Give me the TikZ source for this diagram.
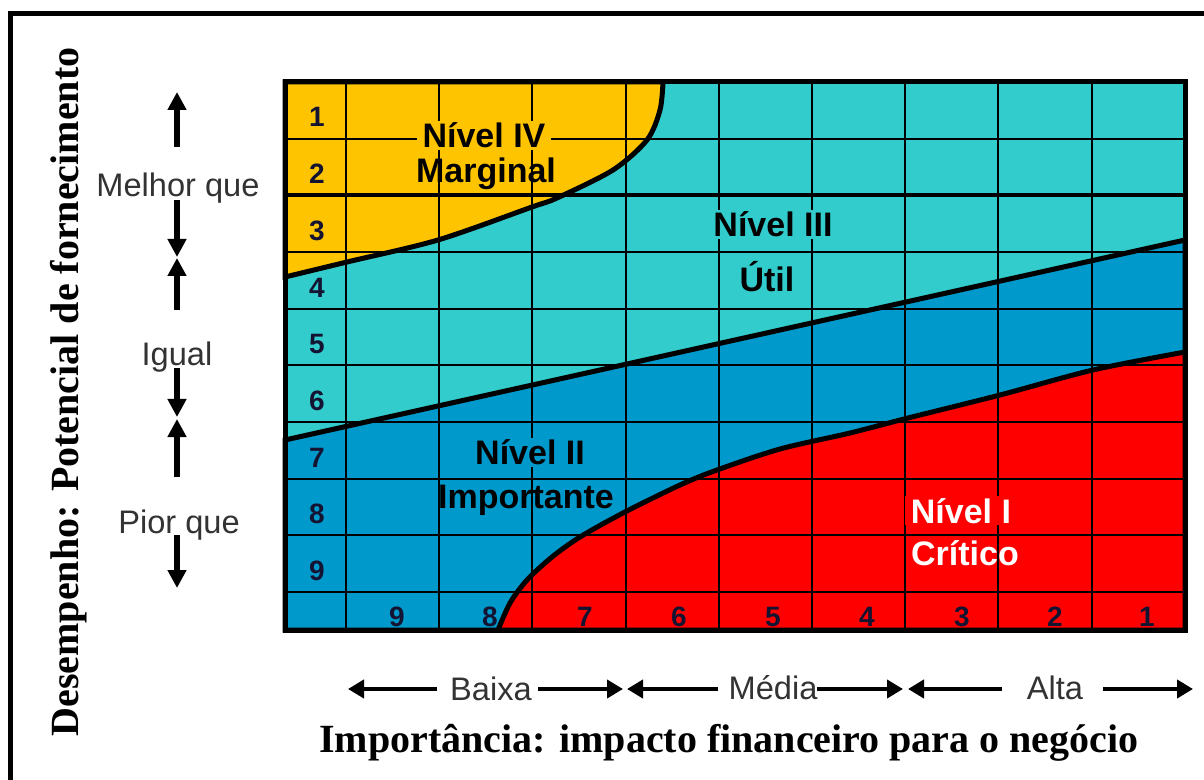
\documentclass[tikz,border=0pt]{standalone}
\usepackage{fontspec}
\setmainfont{Liberation Serif}
\setsansfont{Liberation Sans}
\usetikzlibrary{arrows.meta}
\definecolor{marginal}{RGB}{255,196,0}
\definecolor{util}{RGB}{51,204,204}
\definecolor{importante}{RGB}{0,153,204}
\definecolor{critico}{RGB}{255,0,0}
\definecolor{numcol}{RGB}{20,20,50}

\begin{document}
\begin{tikzpicture}[x=0.5pt, y=-0.5pt,
	bigarrow/.style={line width=2.6pt, -{Triangle[length=9pt,width=9pt]}},
	flatarrow/.style={line width=2.2pt, -{Triangle[length=8pt,width=9pt]}},
	lvl/.style={font=\sffamily\bfseries\fontsize{17}{19}\selectfont, anchor=base, inner sep=0pt},
	lvlbox/.style={lvl, inner xsep=3pt, inner ysep=1pt},
	num/.style={font=\sffamily\bfseries\fontsize{14}{16}\selectfont, anchor=base, text=numcol},
	side/.style={font=\sffamily\fontsize{16.3}{18}\selectfont, anchor=base, text=black!80},
	axis/.style={font=\rmfamily\bfseries\fontsize{20}{22}\selectfont, anchor=base}]
				\fill[white] (0,0) rectangle (1204,780);
				\useasboundingbox (0,0) rectangle (1204,780);
				\draw[line width=2.5pt] (10.5,780) -- (10.5,13.5) -- (1204,13.5);

				\fill[util] (285,82) rectangle (1185,630);
				\filldraw[fill=importante, line width=2.5pt] (285,440) -- (1185,240) -- (1185,630) -- (285,630) -- cycle;
				\filldraw[fill=critico, line width=2.5pt] plot[smooth] coordinates {(498,630) (510,603) (527,580) (552,557) (580,537) (623,513) (680,485) (717,470) (780,449) (850,433) (908,418) (1000,395) (1093,370) (1185,352)} -- (1185,630) -- cycle;
				\filldraw[fill=marginal, line width=2.5pt] plot[smooth] coordinates {(663,82) (660,110) (647,140) (613,170) (557,198) (532,207) (438,240) (347,262) (285,277)} -- (285,82) -- cycle;

				\foreach \i in {1,...,9} {
					\draw[line width=1pt] (285,{82+56.667*\i}) -- (1185,{82+56.667*\i});
				}
				\foreach \i in {0,...,8} {
					\draw[line width=1pt] ({346+93.2*\i},82) -- ({346+93.2*\i},630);
				}
				\draw[line width=2pt] (285,195.3) -- (1185,195.3);

				\foreach \r in {1,...,9} {
					\node[num] (row\r) at (317,{127+56.667*(\r-1)}) {\r};
				}
				\foreach \c/\x in {9/397,8/490,7/585,6/679,5/773,4/867,3/962,2/1055,1/1147} {
					\node[num] (col\c) at (\x,626) {\c};
				}

				\node[lvlbox, fill=marginal] (nivel4) at (484,148) {Nível IV};
				\node[lvl] (marg) at (486,183) {Marginal};
				\node[lvlbox, fill=util] (nivel3) at (773,237) {Nível III};
				\node[lvl] (util) at (767,292) {Útil};
				\node[lvlbox, fill=importante] (nivel2) at (530,465) {Nível II};
				\node[lvl] (impt) at (526,508) {Importante};
				\node[lvlbox, fill=critico, text=white] (nivel1) at (961,523) {Nível I};
				\node[lvl, text=white] (crit) at (965,565) {Crítico};

				\draw[line width=2.5pt] (285,82) rectangle (1185,630);

				\node[side] (melhor) at (178,197) {Melhor que};
				\node[side] (igual) at (177,365) {Igual};
				\node[side] (pior) at (179,533) {Pior que};
				\coordinate (u1a) at (177,147); \coordinate (u1b) at (177,92);
				\coordinate (d1a) at (177,200); \coordinate (d1b) at (177,257);
				\coordinate (u2a) at (177,310); \coordinate (u2b) at (177,258);
				\coordinate (d2a) at (177,368); \coordinate (d2b) at (177,417);
				\coordinate (u3a) at (177,477); \coordinate (u3b) at (177,419);
				\coordinate (d3a) at (177,535); \coordinate (d3b) at (177,588);
				\draw[bigarrow] (u1a) -- (u1b);
				\draw[bigarrow] (d1a) -- (d1b);
				\draw[bigarrow] (u2a) -- (u2b);
				\draw[bigarrow] (d2a) -- (d2b);
				\draw[bigarrow] (u3a) -- (u3b);
				\draw[bigarrow] (d3a) -- (d3b);

				\node[side] (baixa) at (491,700) {Baixa};
				\node[side] (media) at (773,699) {Média};
				\node[side] (alta) at (1055,699) {Alta};
				\coordinate (l1a) at (437,689); \coordinate (l1b) at (348,689);
				\coordinate (r1a) at (538,689); \coordinate (r1b) at (623,689);
				\coordinate (l2a) at (718,689); \coordinate (l2b) at (627,689);
				\coordinate (r2a) at (817,689); \coordinate (r2b) at (903,689);
				\coordinate (l3a) at (1002,689); \coordinate (l3b) at (908,689);
				\coordinate (r3a) at (1103,689); \coordinate (r3b) at (1193,689);
				\draw[flatarrow] (l1a) -- (l1b);
				\draw[flatarrow] (r1a) -- (r1b);
				\draw[flatarrow] (l2a) -- (l2b);
				\draw[flatarrow] (r2a) -- (r2b);
				\draw[flatarrow] (l3a) -- (l3b);
				\draw[flatarrow] (r3a) -- (r3b);

				\node[axis, rotate=90] (desemp) at (78,392) {Desempenho: Potencial de fornecimento};
				\node[axis] (import) at (729,752) {Importância: impacto financeiro para o negócio};
			\end{tikzpicture}
\end{document}
